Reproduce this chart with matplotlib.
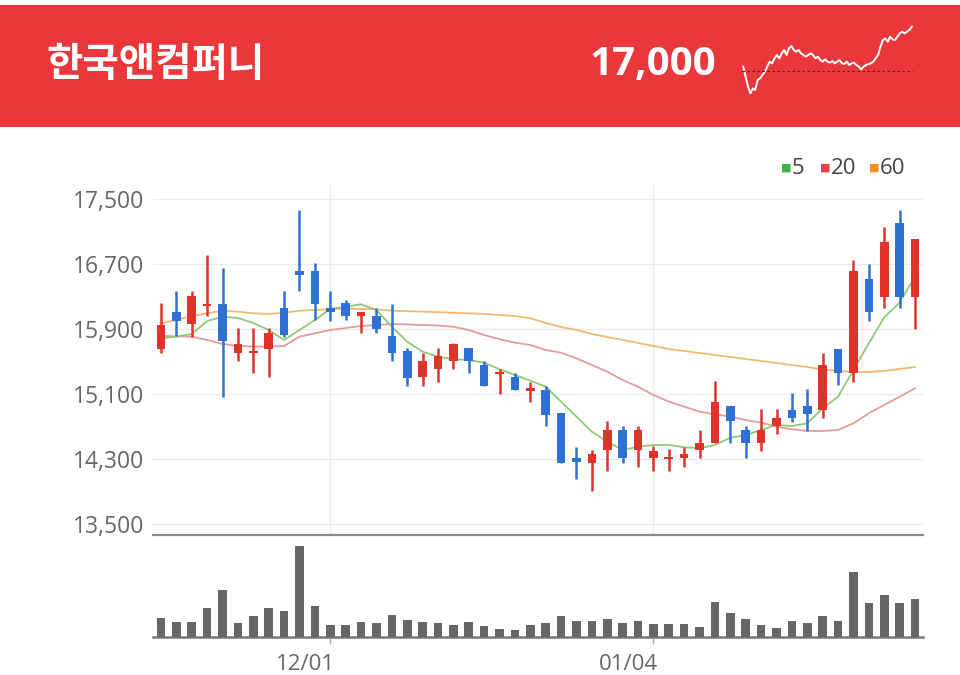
import matplotlib
matplotlib.use("Agg")
import matplotlib.pyplot as plt
import matplotlib.transforms as mtransforms
from matplotlib.patches import Rectangle
import numpy as np

# ---------------- data ----------------
title = "한국앤컴퍼니"
last_price = "17,000"

opens = [15650, 16100, 15960, 16180, 16200, 15600, 15600, 15650, 16160, 16610,
         16610, 16160, 16210, 16060, 16060, 15810, 15620, 15300, 15400, 15500,
         15660, 15450, 15340, 15310, 15140, 15150, 14860, 14310, 14250, 14410,
         14660, 14410, 14310, 14300, 14310, 14410, 14500, 14950, 14660, 14500,
         14700, 14900, 14950, 14900, 15650, 15350, 16510, 16290, 17200, 16290]
highs = [16210, 16360, 16360, 16800, 16650, 15910, 15910, 15910, 16360, 17360,
         16710, 16360, 16250, 16110, 16150, 16200, 15660, 15600, 15660, 15720,
         15660, 15500, 15400, 15350, 15250, 15200, 14860, 14450, 14410, 14760,
         14700, 14700, 14460, 14420, 14450, 14660, 15260, 14950, 14700, 14910,
         14910, 15110, 15160, 15600, 15650, 16750, 16700, 17150, 17360, 17000]
lows = [15600, 15810, 15800, 16050, 15060, 15500, 15350, 15300, 15800, 16360,
        16010, 16000, 16010, 15850, 15850, 15500, 15200, 15200, 15250, 15400,
        15350, 15200, 15100, 15150, 15000, 14700, 14250, 14050, 13900, 14150,
        14250, 14200, 14150, 14150, 14200, 14310, 14500, 14500, 14310, 14400,
        14600, 14750, 14640, 14800, 15210, 15250, 16000, 16150, 16150, 15890]
closes = [15950, 16000, 16300, 16200, 15750, 15710, 15610, 15850, 15820, 16560,
          16200, 16100, 16060, 16110, 15900, 15600, 15290, 15500, 15560, 15710,
          15500, 15200, 15350, 15150, 15150, 14840, 14250, 14260, 14360, 14660,
          14310, 14660, 14400, 14310, 14360, 14500, 15000, 14760, 14490, 14660,
          14800, 14800, 14850, 15450, 15350, 16610, 16100, 16960, 16290, 17000]

ma5 = [15782, 15802, 15835, 15994, 16047, 16031, 15970, 15884, 15761, 15884,
       16007, 16142, 16170, 16200, 16130, 15924, 15740, 15617, 15556, 15524,
       15515, 15482, 15401, 15331, 15261, 15189, 15003, 14818, 14634, 14511,
       14409, 14450, 14470, 14470, 14442, 14430, 14470, 14559, 14593, 14655,
       14716, 14704, 14737, 14922, 15064, 15392, 15720, 16040, 16220, 16540]
ma20 = [15810, 15806, 15802, 15761, 15712, 15687, 15681, 15678, 15687, 15802,
        15843, 15884, 15908, 15933, 15945, 15958, 15952, 15945, 15939, 15924,
        15884, 15822, 15770, 15728, 15700, 15638, 15605, 15536, 15454, 15371,
        15269, 15187, 15085, 15003, 14941, 14880, 14848, 14818, 14778, 14745,
        14695, 14663, 14643, 14643, 14655, 14737, 14860, 14962, 15064, 15167]
ma60 = [15966, 16007, 16056, 16089, 16121, 16109, 16089, 16081, 16096, 16121,
        16130, 16138, 16148, 16142, 16138, 16121, 16115, 16109, 16103, 16096,
        16089, 16081, 16068, 16056, 16028, 15970, 15921, 15884, 15835, 15798,
        15761, 15724, 15687, 15650, 15626, 15601, 15577, 15552, 15527, 15503,
        15478, 15454, 15429, 15398, 15380, 15368, 15368, 15380, 15405, 15429]

volumes = [58, 45, 45, 86, 140, 41, 62, 86, 78, 273,
           94, 37, 37, 45, 41, 66, 50, 45, 41, 37,
           45, 33, 25, 21, 37, 43, 64, 47, 47, 55,
           43, 47, 39, 39, 39, 31, 105, 72, 55, 35,
           27, 47, 43, 64, 47, 195, 101, 125, 101, 113]

yticks = [13500, 14300, 15100, 15900, 16700, 17500]
date_tick_idx = [11, 32]
date_tick_labels = ["12/01", "01/04"]

spark = [14600, 14000, 13400, 13000, 13300, 13200, 13800, 13900, 14100, 14300,
         14600, 14900, 14800, 15100, 15300, 15100, 15400, 15600, 15300, 15700,
         15840, 15600, 15500, 15600, 15400, 15300, 15200, 15300, 15400, 15300,
         15100, 15200, 15000, 14900, 15040, 14900, 14840, 14940, 14800, 14900,
         15000, 14800, 14760, 14900, 14700, 14800, 14840, 14700, 14600, 14440,
         14600, 14700, 14760, 14800, 14900, 15100, 15300, 15800, 16200, 16300,
         16100, 16400, 16240, 16200, 16400, 16600, 16700, 16600, 16700, 16800,
         17000]
spark_base = 14360

# ---------------- style ----------------
RED_BG = "#E9373B"
UP = "#E0312B"
DOWN = "#2F70D4"
C_MA5 = "#8DCB74"
C_MA20 = "#E69A9A"
C_MA60 = "#F3B86E"
TXT = "#666666"
NUMFONT = ["Open Sans", "DejaVu Sans"]
KRFONT = ["Noto Sans CJK KR", "DejaVu Sans"]

W, H = 960, 675
fig = plt.figure(figsize=(W / 100, H / 100), dpi=100)
fig.patch.set_facecolor("white")


def fx(px):
    return px / W


def fy(py):
    return 1 - py / H


# header band
fig.patches.append(Rectangle((0, fy(127)), 1, fy(5) - fy(127), transform=fig.transFigure,
                             facecolor=RED_BG, edgecolor="none", zorder=-5))
fig.text(fx(46), fy(64), title, color="white", fontsize=28.5, fontweight="bold",
         family=KRFONT, va="center", ha="left")
fig.text(fx(716), fy(64), last_price, color="white", fontsize=29, fontweight="bold",
         family=NUMFONT, va="center", ha="right")

# sparkline
axs = fig.add_axes([fx(742), fy(95), fx(913) - fx(742), fy(25) - fy(95)])
axs.set_facecolor("none")
axs.set_zorder(5)
sx = np.arange(len(spark))
axs.plot(sx, spark, color="white", lw=1.4)
axs.axhline(spark_base, color="#6a2020", lw=0.9, ls=(0, (2, 2)))
axs.set_xlim(-0.5, len(spark) - 0.5)
axs.set_ylim(12900, 17100)
axs.axis("off")

# ---------------- price axes ----------------
n = len(closes)
x = np.arange(n)
ax = fig.add_axes([fx(153), fy(535), fx(923) - fx(153), fy(185) - fy(535)])
ax.set_xlim(-0.52, n - 1 + 0.52)
ax.set_ylim(13364, 17666)

for t in yticks:
    ax.axhline(t, color="#ececec", lw=1.0, zorder=0)
for i in date_tick_idx:
    ax.axvline(i, color="#ececec", lw=1.0, zorder=0)

ax.plot(x, ma60, color=C_MA60, lw=1.3, zorder=2)
ax.plot(x, ma20, color=C_MA20, lw=1.3, zorder=2)
ax.plot(x, ma5, color=C_MA5, lw=1.3, zorder=2)

o = np.array(opens); c = np.array(closes); h = np.array(highs); l = np.array(lows)
up = c >= o
cols = np.where(up, UP, DOWN)
ax.vlines(x, l, h, colors=cols, lw=1.8, zorder=3)
body_bottom = np.minimum(o, c)
body_h = np.maximum(np.abs(c - o), 25)
ax.bar(x, body_h, bottom=body_bottom, width=0.56, color=cols, zorder=4)

ax.set_yticks(yticks)
ax.set_yticklabels([f"{t:,}" for t in yticks], family=NUMFONT, fontsize=16.5, color=TXT)
ax.tick_params(axis="y", length=0, pad=6)
ax.set_xticks([])
for s in ["top", "right", "left"]:
    ax.spines[s].set_visible(False)
ax.spines["bottom"].set_color("#8a8a8a")
ax.spines["bottom"].set_linewidth(1.6)

# legend
LEG_Y = fy(168)
fig.text(fx(781), LEG_Y, "■", color="#3DB046", fontsize=8, va="center", ha="left")
fig.text(fx(792), LEG_Y, "5", color="#444444", fontsize=16, family=NUMFONT, va="center", ha="left")
fig.text(fx(820), LEG_Y, "■", color="#E8414A", fontsize=8, va="center", ha="left")
fig.text(fx(831), LEG_Y, "20", color="#444444", fontsize=16, family=NUMFONT, va="center", ha="left")
fig.text(fx(869), LEG_Y, "■", color="#F39021", fontsize=8, va="center", ha="left")
fig.text(fx(880), LEG_Y, "60", color="#444444", fontsize=16, family=NUMFONT, va="center", ha="left")

# ---------------- volume axes ----------------
axv = fig.add_axes([fx(153), fy(637), fx(923) - fx(153), fy(540) - fy(637)])
axv.set_xlim(-0.52, n - 1 + 0.52)
axv.set_ylim(0, 291)
axv.bar(x, volumes, width=0.56, color="#666666", zorder=3)
axv.set_yticks([])
axv.set_xticks(date_tick_idx)
axv.set_xticklabels(date_tick_labels, family=NUMFONT, fontsize=16, color=TXT)
axv.tick_params(axis="x", length=5, width=1, color="#aaaaaa", pad=7)
offset = mtransforms.ScaledTranslation(5 / 100, 0, fig.dpi_scale_trans)
for lab in axv.get_xticklabels():
    lab.set_horizontalalignment("right")
    lab.set_transform(lab.get_transform() + offset)
for s in ["top", "right", "left"]:
    axv.spines[s].set_visible(False)
axv.spines["bottom"].set_color("#777777")
axv.spines["bottom"].set_linewidth(1.8)

fig.savefig("out.png", dpi=100)
